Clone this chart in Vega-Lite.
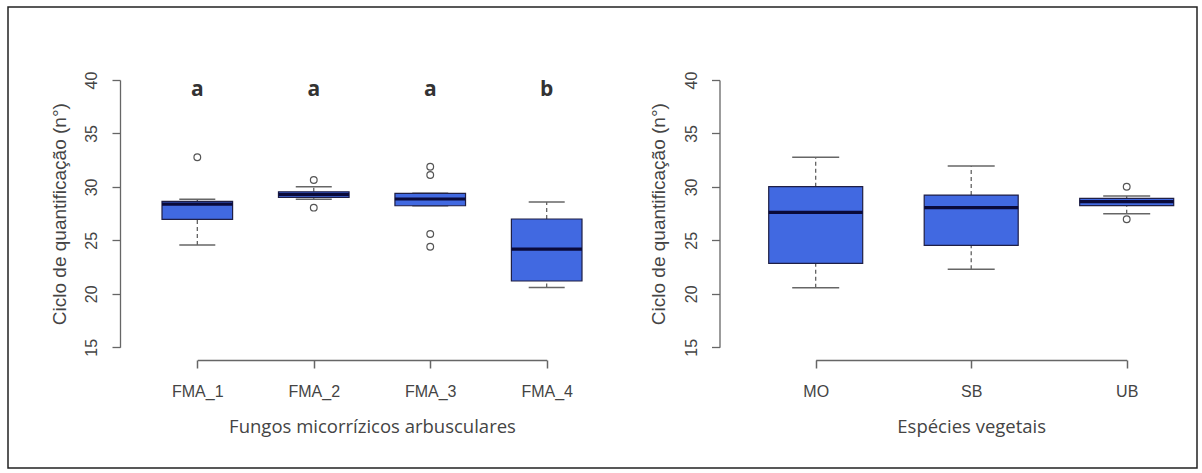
{
  "$schema": "https://vega.github.io/schema/vega-lite/v6.json",
  "width": 1189,
  "height": 461,
  "autosize": {"type": "none"},
  "padding": {"left": 8, "top": 7, "right": 5, "bottom": 5},
  "background": "white",
  "config": {
    "view": {"stroke": "#222", "strokeWidth": 1.5},
    "axis": {"grid": false, "labelFlush": false, "labelOverlap": false}
  },
  "datasets": {
    "fma": [
      {"group": "FMA_1", "lower": 24.56, "q1": 26.97, "median": 28.40, "q3": 28.65, "upper": 28.84},
      {"group": "FMA_2", "lower": 28.84, "q1": 29.02, "median": 29.30, "q3": 29.55, "upper": 30.02},
      {"group": "FMA_3", "lower": 28.24, "q1": 28.24, "median": 28.87, "q3": 29.40, "upper": 29.40},
      {"group": "FMA_4", "lower": 20.60, "q1": 21.20, "median": 24.19, "q3": 27.00, "upper": 28.59}
    ],
    "fma_out": [
      {"group": "FMA_1", "value": 32.77},
      {"group": "FMA_2", "value": 30.65},
      {"group": "FMA_2", "value": 28.06},
      {"group": "FMA_3", "value": 31.89},
      {"group": "FMA_3", "value": 31.11},
      {"group": "FMA_3", "value": 25.59},
      {"group": "FMA_3", "value": 24.41}
    ],
    "fma_letters": [
      {"group": "FMA_1", "letter": "a"},
      {"group": "FMA_2", "letter": "a"},
      {"group": "FMA_3", "letter": "a"},
      {"group": "FMA_4", "letter": "b"}
    ],
    "esp": [
      {"group": "MO", "lower": 20.57, "q1": 22.85, "median": 27.62, "q3": 30.02, "upper": 32.77},
      {"group": "SB", "lower": 22.29, "q1": 24.54, "median": 28.06, "q3": 29.24, "upper": 31.96},
      {"group": "UB", "lower": 27.49, "q1": 28.25, "median": 28.62, "q3": 28.93, "upper": 29.15}
    ],
    "esp_out": [
      {"group": "UB", "value": 30.02},
      {"group": "UB", "value": 26.97}
    ]
  },
  "layer": [
    {
      "data": {"name": "fma"},
      "mark": {"type": "rule", "color": "#555", "strokeDash": [4, 3], "strokeWidth": 1.2},
      "encoding": {
        "x": {"field": "group", "type": "nominal", "axis": null, "scale": {"type": "point", "domain": ["FMA_1", "FMA_2", "FMA_3", "FMA_4"], "range": [189.3, 538.7], "padding": 0}},
        "y": {"field": "q3", "type": "quantitative", "axis": null, "scale": {"domain": [15, 40], "range": [340.3, 73], "nice": false, "zero": false}},
        "y2": {"field": "upper"}
      }
    },
    {
      "data": {"name": "fma"},
      "mark": {"type": "rule", "color": "#555", "strokeDash": [4, 3], "strokeWidth": 1.2},
      "encoding": {
        "x": {"field": "group", "type": "nominal", "axis": null, "scale": {"type": "point", "domain": ["FMA_1", "FMA_2", "FMA_3", "FMA_4"], "range": [189.3, 538.7], "padding": 0}},
        "y": {"field": "lower", "type": "quantitative", "axis": null, "scale": {"domain": [15, 40], "range": [340.3, 73], "nice": false, "zero": false}},
        "y2": {"field": "q1"}
      }
    },
    {
      "data": {"name": "fma"},
      "mark": {"type": "tick", "orient": "horizontal", "color": "#666", "size": 36, "thickness": 1.5, "opacity": 1},
      "encoding": {
        "x": {"field": "group", "type": "nominal", "axis": null, "scale": {"type": "point", "domain": ["FMA_1", "FMA_2", "FMA_3", "FMA_4"], "range": [189.3, 538.7], "padding": 0}},
        "y": {"field": "upper", "type": "quantitative", "axis": null, "scale": {"domain": [15, 40], "range": [340.3, 73], "nice": false, "zero": false}}
      }
    },
    {
      "data": {"name": "fma"},
      "mark": {"type": "tick", "orient": "horizontal", "color": "#666", "size": 36, "thickness": 1.5, "opacity": 1},
      "encoding": {
        "x": {"field": "group", "type": "nominal", "axis": null, "scale": {"type": "point", "domain": ["FMA_1", "FMA_2", "FMA_3", "FMA_4"], "range": [189.3, 538.7], "padding": 0}},
        "y": {"field": "lower", "type": "quantitative", "axis": null, "scale": {"domain": [15, 40], "range": [340.3, 73], "nice": false, "zero": false}}
      }
    },
    {
      "data": {"name": "fma"},
      "mark": {"type": "bar", "width": 70.6, "fill": "#4169e1", "stroke": "#1f1f45", "strokeWidth": 1.2, "opacity": 1},
      "encoding": {
        "x": {"field": "group", "type": "nominal",
          "scale": {"type": "point", "domain": ["FMA_1", "FMA_2", "FMA_3", "FMA_4"], "range": [189.3, 538.7], "padding": 0},
          "axis": {"title": "Fungos micorrízicos arbusculares", "orient": "bottom", "offset": -108,
            "domainColor": "#666", "domainWidth": 1.5, "tickColor": "#666", "tickWidth": 1.5, "tickSize": 8,
            "labelAngle": 0, "labelAlign": "center", "labelBaseline": "alphabetic", "labelPadding": 28,
            "labelFont": "Liberation Sans", "labelFontSize": 16, "labelColor": "#444",
            "titleFont": "Open Sans", "titleFontSize": 18.5, "titleFontWeight": "normal", "titleColor": "#444",
            "titleY": 72, "titleBaseline": "alphabetic"}},
        "y": {"field": "q1", "type": "quantitative",
          "scale": {"domain": [15, 40], "range": [340.3, 73], "nice": false, "zero": false},
          "axis": {"title": "Ciclo de quantificação (n°)", "orient": "left", "offset": -112, "values": [15, 20, 25, 30, 35, 40],
            "domainColor": "#666", "domainWidth": 1.3, "tickColor": "#666", "tickWidth": 1.3, "tickSize": 8,
            "labelAngle": -90, "labelAlign": "center", "labelBaseline": "alphabetic", "labelPadding": 15.3,
            "labelFont": "Liberation Sans", "labelFontSize": 16, "labelColor": "#444",
            "titleFont": "Liberation Sans", "titleFontSize": 19, "titleFontWeight": "normal", "titleColor": "#444",
            "titleAngle": -90, "titleX": -55, "titleBaseline": "alphabetic"}},
        "y2": {"field": "q3"}
      }
    },
    {
      "data": {"name": "fma"},
      "mark": {"type": "tick", "orient": "horizontal", "color": "#0a0a3a", "size": 70.6, "thickness": 3.2, "opacity": 1},
      "encoding": {
        "x": {"field": "group", "type": "nominal", "axis": null, "scale": {"type": "point", "domain": ["FMA_1", "FMA_2", "FMA_3", "FMA_4"], "range": [189.3, 538.7], "padding": 0}},
        "y": {"field": "median", "type": "quantitative", "axis": null, "scale": {"domain": [15, 40], "range": [340.3, 73], "nice": false, "zero": false}}
      }
    },
    {
      "data": {"name": "fma_out"},
      "mark": {"type": "point", "shape": "circle", "filled": false, "stroke": "#555", "strokeWidth": 1.2, "size": 45, "opacity": 1},
      "encoding": {
        "x": {"field": "group", "type": "nominal", "axis": null, "scale": {"type": "point", "domain": ["FMA_1", "FMA_2", "FMA_3", "FMA_4"], "range": [189.3, 538.7], "padding": 0}},
        "y": {"field": "value", "type": "quantitative", "axis": null, "scale": {"domain": [15, 40], "range": [340.3, 73], "nice": false, "zero": false}}
      }
    },
    {
      "data": {"name": "fma_letters"},
      "mark": {"type": "text", "font": "Open Sans", "fontWeight": "bold", "fontSize": 21, "color": "#333", "baseline": "alphabetic", "align": "center"},
      "encoding": {
        "x": {"field": "group", "type": "nominal", "axis": null, "scale": {"type": "point", "domain": ["FMA_1", "FMA_2", "FMA_3", "FMA_4"], "range": [189.3, 538.7], "padding": 0}},
        "y": {"datum": 38.5, "type": "quantitative", "axis": null, "scale": {"domain": [15, 40], "range": [340.3, 73], "nice": false, "zero": false}},
        "text": {"field": "letter"}
      }
    },
    {
      "data": {"name": "esp"},
      "mark": {"type": "rule", "color": "#555", "strokeDash": [4, 3], "strokeWidth": 1.2},
      "encoding": {
        "x": {"field": "group", "type": "nominal", "axis": null, "scale": {"type": "point", "domain": ["MO", "SB", "UB"], "range": [807.7, 1118.7], "padding": 0}},
        "y": {"field": "q3", "type": "quantitative", "axis": null, "scale": {"domain": [15, 40], "range": [340.3, 73], "nice": false, "zero": false}},
        "y2": {"field": "upper"}
      }
    },
    {
      "data": {"name": "esp"},
      "mark": {"type": "rule", "color": "#555", "strokeDash": [4, 3], "strokeWidth": 1.2},
      "encoding": {
        "x": {"field": "group", "type": "nominal", "axis": null, "scale": {"type": "point", "domain": ["MO", "SB", "UB"], "range": [807.7, 1118.7], "padding": 0}},
        "y": {"field": "lower", "type": "quantitative", "axis": null, "scale": {"domain": [15, 40], "range": [340.3, 73], "nice": false, "zero": false}},
        "y2": {"field": "q1"}
      }
    },
    {
      "data": {"name": "esp"},
      "mark": {"type": "tick", "orient": "horizontal", "color": "#666", "size": 47, "thickness": 1.5, "opacity": 1},
      "encoding": {
        "x": {"field": "group", "type": "nominal", "axis": null, "scale": {"type": "point", "domain": ["MO", "SB", "UB"], "range": [807.7, 1118.7], "padding": 0}},
        "y": {"field": "upper", "type": "quantitative", "axis": null, "scale": {"domain": [15, 40], "range": [340.3, 73], "nice": false, "zero": false}}
      }
    },
    {
      "data": {"name": "esp"},
      "mark": {"type": "tick", "orient": "horizontal", "color": "#666", "size": 47, "thickness": 1.5, "opacity": 1},
      "encoding": {
        "x": {"field": "group", "type": "nominal", "axis": null, "scale": {"type": "point", "domain": ["MO", "SB", "UB"], "range": [807.7, 1118.7], "padding": 0}},
        "y": {"field": "lower", "type": "quantitative", "axis": null, "scale": {"domain": [15, 40], "range": [340.3, 73], "nice": false, "zero": false}}
      }
    },
    {
      "data": {"name": "esp"},
      "mark": {"type": "bar", "width": 94, "fill": "#4169e1", "stroke": "#1f1f45", "strokeWidth": 1.2, "opacity": 1},
      "encoding": {
        "x": {"field": "group", "type": "nominal",
          "scale": {"type": "point", "domain": ["MO", "SB", "UB"], "range": [807.7, 1118.7], "padding": 0},
          "axis": {"title": "Espécies vegetais", "orient": "bottom", "offset": -108,
            "domainColor": "#666", "domainWidth": 1.5, "tickColor": "#666", "tickWidth": 1.5, "tickSize": 8,
            "labelAngle": 0, "labelAlign": "center", "labelBaseline": "alphabetic", "labelPadding": 28,
            "labelFont": "Liberation Sans", "labelFontSize": 16, "labelColor": "#444",
            "titleFont": "Open Sans", "titleFontSize": 18.5, "titleFontWeight": "normal", "titleColor": "#444",
            "titleY": 72, "titleBaseline": "alphabetic"}},
        "y": {"field": "q1", "type": "quantitative",
          "scale": {"domain": [15, 40], "range": [340.3, 73], "nice": false, "zero": false},
          "axis": {"title": "Ciclo de quantificação (n°)", "orient": "left", "offset": -711.5, "values": [15, 20, 25, 30, 35, 40],
            "domainColor": "#666", "domainWidth": 1.3, "tickColor": "#666", "tickWidth": 1.3, "tickSize": 8,
            "labelAngle": -90, "labelAlign": "center", "labelBaseline": "alphabetic", "labelPadding": 15.3,
            "labelFont": "Liberation Sans", "labelFontSize": 16, "labelColor": "#444",
            "titleFont": "Liberation Sans", "titleFontSize": 19, "titleFontWeight": "normal", "titleColor": "#444",
            "titleAngle": -90, "titleX": -55, "titleBaseline": "alphabetic"}},
        "y2": {"field": "q3"}
      }
    },
    {
      "data": {"name": "esp"},
      "mark": {"type": "tick", "orient": "horizontal", "color": "#0a0a3a", "size": 94, "thickness": 3.2, "opacity": 1},
      "encoding": {
        "x": {"field": "group", "type": "nominal", "axis": null, "scale": {"type": "point", "domain": ["MO", "SB", "UB"], "range": [807.7, 1118.7], "padding": 0}},
        "y": {"field": "median", "type": "quantitative", "axis": null, "scale": {"domain": [15, 40], "range": [340.3, 73], "nice": false, "zero": false}}
      }
    },
    {
      "data": {"name": "esp_out"},
      "mark": {"type": "point", "shape": "circle", "filled": false, "stroke": "#555", "strokeWidth": 1.2, "size": 45, "opacity": 1},
      "encoding": {
        "x": {"field": "group", "type": "nominal", "axis": null, "scale": {"type": "point", "domain": ["MO", "SB", "UB"], "range": [807.7, 1118.7], "padding": 0}},
        "y": {"field": "value", "type": "quantitative", "axis": null, "scale": {"domain": [15, 40], "range": [340.3, 73], "nice": false, "zero": false}}
      }
    }
  ],
  "resolve": {
    "scale": {"x": "independent", "y": "independent"},
    "axis": {"x": "independent", "y": "independent"}
  }
}
